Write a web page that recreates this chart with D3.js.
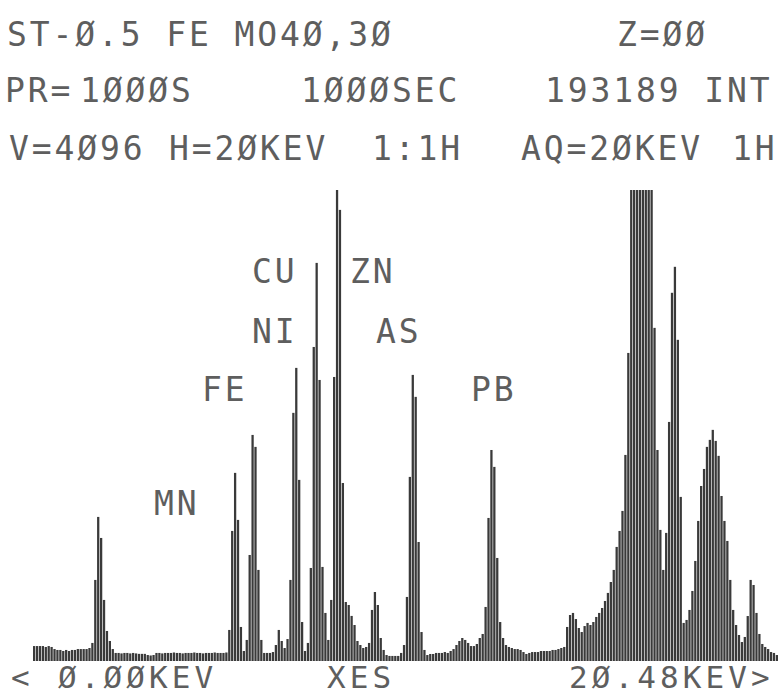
<!DOCTYPE html>
<html>
<head>
<meta charset="utf-8">
<script src="https://cdn.jsdelivr.net/npm/d3@7"></script>
<style>
  html, body { margin: 0; padding: 0; background: #fff; }
  svg { display: block; }
  text { font-family: "DejaVu Sans Mono", monospace; }
</style>
</head>
<body>
<div id="viz"></div>
<script>
// XES spectrum, 256 channels of 0.08 keV (0 - 20.48 keV), counts clipped at V=4096
const counts = [
  130,130,130,130,122,130,122,104,96,96, 87,96,87,96,96,104,104,104,104,113,
  157,705,1253,1070,531,261,174,104,
  70,70,66,70,70,66,70,66,62,62,62,
  52,48,52,
  70,70,66,70,70,70,74,70,70,66,70,70,70,74,70,70,66,70,70,70,74,70,70,70,74,
  270,1131,1636,1227,296,87,183,922,1966,1862,792,183,
  70,70,70,78,139,270,174,113,191,
  705,2158,2549,1575,339,87,157,809,2731,3462,2444,818,418,183,
  531,2470,4096,3923,1548,513,487,392,313,174,139,113,122,157,
  444,600,487,200,96,52,44,44,44,44,70,139,557,1601,2488,2297,1035,252,96,52,
  61,61,70,70,70,78,70,87,104,139,174,200,183,157,130,130,148,200,235,
  470,1244,1835,1688,896,339,200,
  139,122,113,104,104,96,78,61,70,78,78,78,87,87,87,87,96,96,104,113,122,
  296,400,418,365,287,252,304,331,313,339,383,418,461,522,592,687,792,992,1131,1305,1792,2679,
  4096,4096,4096,4096,4096,4096,4096,4096,
  2897,1835,1140,792,1114,2079,3202,3428,2793,1427,331,
  357,444,609,870,1218,1522,1670,1862,1923,2010,1914,1784,1435,1218,1044,705,
  444,313,226,165,209,391,705,661,418,235,148,122,104,78,70,52
];
const fullScale = 4096;

const headerLines = [
  ["ST-Ø.5 FE MO4Ø,3Ø", "Z=ØØ"],
  ["PR=", "1ØØØS", "1ØØØSEC", "193189 INT"],
  ["V=4Ø96", "H=2ØKEV", "1:1H", "AQ=2ØKEV", "1H"]
];
const axisLabels = ["<", "Ø.ØØKEV", "XES", "2Ø.48KEV>"];
const peakNames = ["MN", "FE", "NI", "CU", "ZN", "AS", "PB"];

// layout (pixels)
const width = 783, height = 696;
const plot = { left: 33, right: 778, top: 190, bottom: 661 };
const pitch = 22.75, fontSize = 33, axisFont = 31;
const headerX = [[7, 617], [5, 80, 301, 545], [9, 169, 372, 521, 732]];
const headerY = [46, 102, 160];
const axisX = [11, 58, 327, 569], axisY = 688;
const peakPos = [[154, 515], [202, 401], [252, 343], [252, 283], [350, 283], [376, 343], [471, 401]];

const svg = d3.select("#viz").append("svg")
  .attr("width", width)
  .attr("height", height);

svg.append("rect").attr("width", width).attr("height", height).attr("fill", "#fff");

const x = d3.scaleBand()
  .domain(d3.range(counts.length))
  .range([plot.left, plot.right])
  .paddingInner(0.22);

const y = d3.scaleLinear()
  .domain([0, fullScale])
  .range([plot.bottom, plot.top]);

svg.append("g")
  .selectAll("rect")
  .data(counts)
  .join("rect")
  .attr("x", (d, i) => x(i))
  .attr("y", d => y(Math.min(d, fullScale)))
  .attr("width", x.bandwidth())
  .attr("height", d => y(0) - y(Math.min(d, fullScale)))
  .attr("fill", "#3a3a3a");

const addText = (str, tx, ty, size) => svg.append("text")
  .attr("x", tx)
  .attr("y", ty)
  .attr("font-size", size)
  .attr("letter-spacing", pitch - 0.602 * size)
  .attr("fill", "#5e5e5e")
  .text(str);

headerLines.forEach((line, r) => {
  line.forEach((seg, k) => addText(seg, headerX[r][k], headerY[r], fontSize));
});

axisLabels.forEach((s, k) => addText(s, axisX[k], axisY, axisFont));

peakNames.forEach((s, k) => addText(s, peakPos[k][0], peakPos[k][1], fontSize));
</script>
</body>
</html>
